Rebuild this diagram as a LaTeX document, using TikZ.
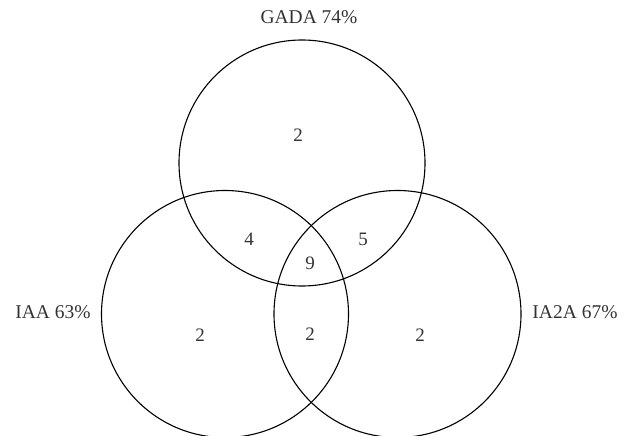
\documentclass[tikz,border=0pt]{standalone}
\usepackage{fontspec}
\setmainfont{Liberation Serif}
\begin{document}
\begin{tikzpicture}[x=1pt,y=-1pt,
  ring/.style={draw=black,line width=1.1pt},
  lbl/.style={font=\fontsize{19.5}{22}\selectfont,text=black!80,inner sep=0pt},
  num/.style={font=\fontsize{19}{22}\selectfont,text=black!80,inner sep=0pt}]
\useasboundingbox (0,0) rectangle (630,436);
\node[ring,circle,minimum size=246pt,inner sep=0pt] (gada) at (302,163) {};
\node[ring,circle,minimum size=247pt,inner sep=0pt] (iaa) at (225,314) {};
\node[ring,circle,minimum size=247pt,inner sep=0pt] (ia2a) at (397.5,314) {};
\node[lbl] (lg) at (309,17) {GADA 74\%};
\node[lbl] (ll) at (53,312) {IAA 63\%};
\node[lbl] (lr) at (575,312) {IA2A 67\%};
\node[num] (n1) at (298,135) {2};
\node[num] (n2) at (249,239) {4};
\node[num] (n3) at (363,239) {5};
\node[num] (n4) at (310,263) {9};
\node[num] (n5) at (200,335) {2};
\node[num] (n6) at (310,334) {2};
\node[num] (n7) at (420,335) {2};
\end{tikzpicture}
\end{document}
